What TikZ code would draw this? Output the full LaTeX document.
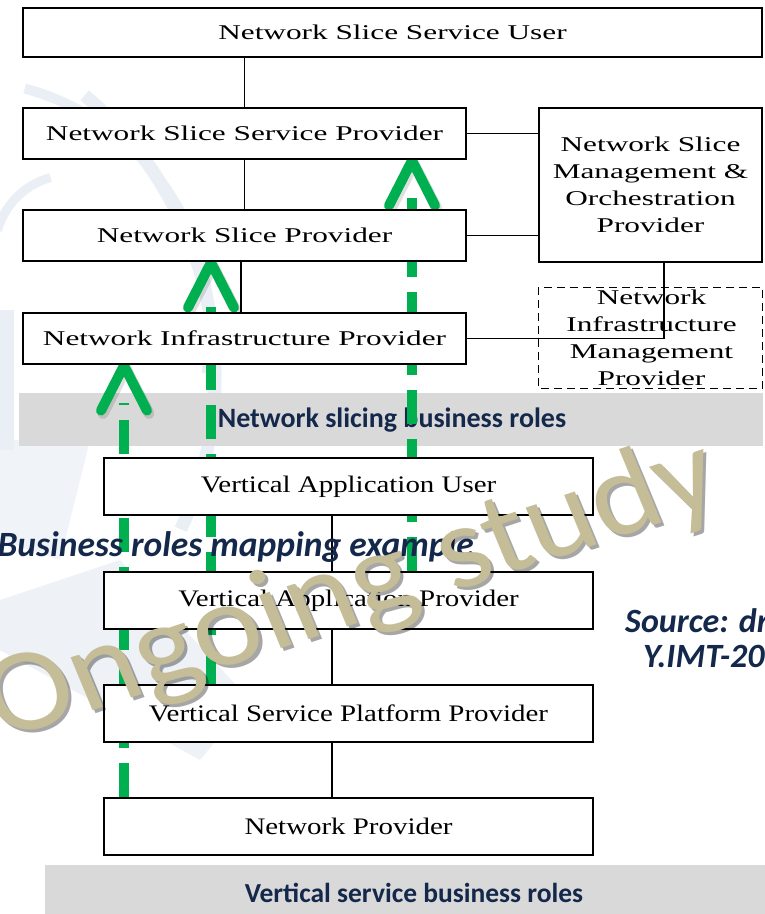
\documentclass[tikz,border=0pt]{standalone}
\usepackage{fontspec}
\usepackage{graphicx}
\setmainfont{Liberation Serif}
\newfontfamily\calib{Carlito}
\usetikzlibrary{calc}
\definecolor{navy}{HTML}{14284B}
\definecolor{okgreen}{HTML}{00B050}
\definecolor{bandgrey}{HTML}{D9D9D9}
\definecolor{tan}{HTML}{C4BD97}
\definecolor{logoblue}{HTML}{EAEFF5}
% role labels are set in a horizontally widened serif
\newcommand\sliceword[1]{\scalebox{1.49}[1]{#1}}
\newcommand\vertword[1]{\scalebox{1.22}[1]{#1}}
\begin{document}
\begin{tikzpicture}[x=1pt,y=-1pt,
  slicerole/.style={draw=black, line width=1.1pt, fill=white, inner sep=0pt,
    minimum width=443pt, minimum height=51pt,
    font=\fontsize{21}{26}\selectfont},
  mgmtrole/.style={slicerole, minimum width=223pt, align=center},
  vertrole/.style={draw=black, line width=1.1pt, fill=white, inner sep=0pt,
    minimum width=489pt, minimum height=57pt,
    font=\fontsize{23.7}{28}\selectfont},
  link/.style={draw=black, line width=1.1pt},
  band/.style={fill=bandgrey, draw=none},
  bandtext/.style={text=navy, font=\calib\bfseries\fontsize{28}{30}\selectfont},
  shaft/.style={draw=okgreen, line width=10pt, dash pattern=on 34pt off 15pt},
  chev/.style={draw=okgreen, line width=10pt, line cap=round, line join=round},
  chevshadow/.style={draw=black, opacity=0.12, line width=11pt, line cap=round, line join=round},
  slide/.style={text=navy, font=\calib\bfseries\itshape\fontsize{35.5}{38}\selectfont, inner sep=0pt},
  srcfont/.style={font=\calib\bfseries\itshape\fontsize{34}{36}\selectfont},
  stampfont/.style={font=\calib\fontsize{118}{118}\selectfont},
  emblem/.style={draw=logoblue, line width=13pt}
]
\useasboundingbox (0,0) rectangle (765,914);
\clip (0,0) rectangle (765,914);
\fill[white] (0,0) rectangle (765,914);

% faint emblem in the slide background
\draw[emblem] (-150,375) ++(-50:365) arc[start angle=-50, end angle=25, radius=365];
\draw[emblem, line width=10pt] (-40,330) ++(-75:250) arc[start angle=-75, end angle=10, radius=250];
\draw[emblem, line width=9pt] (70,250) ++(195:75) arc[start angle=195, end angle=255, radius=75];
\fill[logoblue] (0,310) rectangle (14,450);
\fill[logoblue, opacity=0.8] (0,600) -- (120,560) -- (250,700) -- (200,760) -- (0,650) -- cycle;
\fill[logoblue, opacity=0.7] (0,440) -- (90,440) -- (60,560) -- (0,540) -- cycle;

% grey caption bands
\node[band, minimum width=744pt, minimum height=53pt, inner sep=0pt] (band1) at (391,419.5) {};
\node[bandtext] (band1txt) at (392,420) {Network slicing business roles};
\node[band, minimum width=722pt, minimum height=50pt, inner sep=0pt] (band2) at (406,890) {};
\node[bandtext, font=\calib\bfseries\fontsize{27.5}{30}\selectfont] (band2txt) at (414,893) {Vertical service business roles};

% anchor columns of the mapping arrows
\coordinate (c1) at (124,0);
\coordinate (c2) at (211,0);
\coordinate (c3) at (412,0);

% node placement (boxes are drawn again after the arrows)
\path
  node[slicerole, minimum width=739pt, minimum height=49pt] (nssu) at (392.5,32.5) {}
  node[slicerole] (nssp) at (244.5,133.5) {}
  node[slicerole] (nsp)  at (244.5,235.5) {}
  node[slicerole] (nip)  at (244.5,338.5) {}
  node[vertrole] (vau)  at (348.5,486.5) {}
  node[vertrole] (vap)  at (348.5,600.5) {}
  node[vertrole] (vspp) at (348.5,713.5) {}
  node[vertrole] (np)   at (348.5,826.5) {};

% green mapping arrows: dashed shafts
\draw[shaft] (np.north -| c1) -- ($(nip.south -| c1)+(0,38)$);
\draw[shaft] (vspp.north -| c2) -- ($(nsp.south -| c2)+(0,38)$);
\draw[shaft] (vap.north -| c3) -- ($(nssp.south -| c3)+(0,38)$);

% open chevron heads
\foreach \tgt/\col in {nip/c1, nsp/c2, nssp/c3}{
  \draw[chevshadow] ($(\tgt.south -| \col)+(-21,49)$) -- ($(\tgt.south -| \col)+(2,4)$) -- ($(\tgt.south -| \col)+(25,49)$);
  \draw[chev] ($(\tgt.south -| \col)+(-23,46)$) -- ($(\tgt.south -| \col)+(0,1)$) -- ($(\tgt.south -| \col)+(23,46)$);
}

% boxes on top of the arrows
\node[slicerole, minimum width=739pt, minimum height=49pt] at (nssu) {\sliceword{Network Slice Service User}};
\node[slicerole] at (nssp) {\sliceword{Network Slice Service Provider}};
\node[slicerole] at (nsp) {\sliceword{Network Slice Provider}};
\node[slicerole] at (nip) {\sliceword{Network Infrastructure Provider}};
\node[vertrole] at (vau) {\vertword{Vertical Application User}};
\node[vertrole] at (vap) {\vertword{Vertical Application Provider}};
\node[vertrole] at (vspp) {\vertword{Vertical Service Platform Provider}};
\node[vertrole] at (np) {\vertword{Network Provider}};

\node[mgmtrole, minimum height=154pt] (nsmo) at (650.5,185)
  {\sliceword{Network Slice}\\[1pt]\sliceword{Management \&}\\[1pt]\sliceword{Orchestration}\\[1pt]\sliceword{Provider}};
\node[mgmtrole, draw=none, fill=none, minimum height=100pt] (nimp) at (651.5,338)
  {\sliceword{Network}\\[1pt]\sliceword{Infrastructure}\\[1pt]\sliceword{Management}\\[1pt]\sliceword{Provider}};
\draw[line width=1.1pt, dash pattern=on 8pt off 5pt] ([xshift=-1pt]nimp.north west) rectangle ([xshift=-1pt]nimp.south east);

% role relations
\coordinate (tapA) at (241,0);
\coordinate (tapB) at (332,0);
\coordinate (tapC) at (664,0);
\draw[link] (nssu.south -| nssp) -- (nssp.north);
\draw[link] (nssp.south) -- (nsp.north);
\draw[link] (nsp.south -| tapA) -- (nip.north -| tapA);
\draw[link] (nssp.east) -- (nssp.east -| nsmo.west);
\draw[link] (nsp.east) -- (nsp.east -| nsmo.west);
\draw[link] (nsmo.south -| tapC) |- (nip.east);
\draw[link] (vau.south -| tapB) -- (vap.north -| tapB);
\draw[link] (vap.south -| tapB) -- (vspp.north -| tapB);
\draw[link] (vspp.south -| tapB) -- (np.north -| tapB);

% slide captions
\node[slide, anchor=base east] (mapcap) at (474,556) {Business roles mapping example};
\node[slide, srcfont, anchor=base west] (src1) at (625,632) {Source: dr};
\node[slide, srcfont, anchor=base west] (src2) at (643,667) {Y.IMT-20};

% status stamp, rotated and then widened
\begin{scope}[xscale=1.12]
  \node[transform shape, anchor=base west, rotate=20.3, inner sep=0pt, text=black, opacity=0.35, stampfont]
    (stampshadow) at (4.5,744) {Ongoing study};
  \node[transform shape, anchor=base west, rotate=20.3, inner sep=0pt, text=tan, stampfont]
    (stamp) at (1.8,741) {Ongoing study};
\end{scope}
\end{tikzpicture}
\end{document}
